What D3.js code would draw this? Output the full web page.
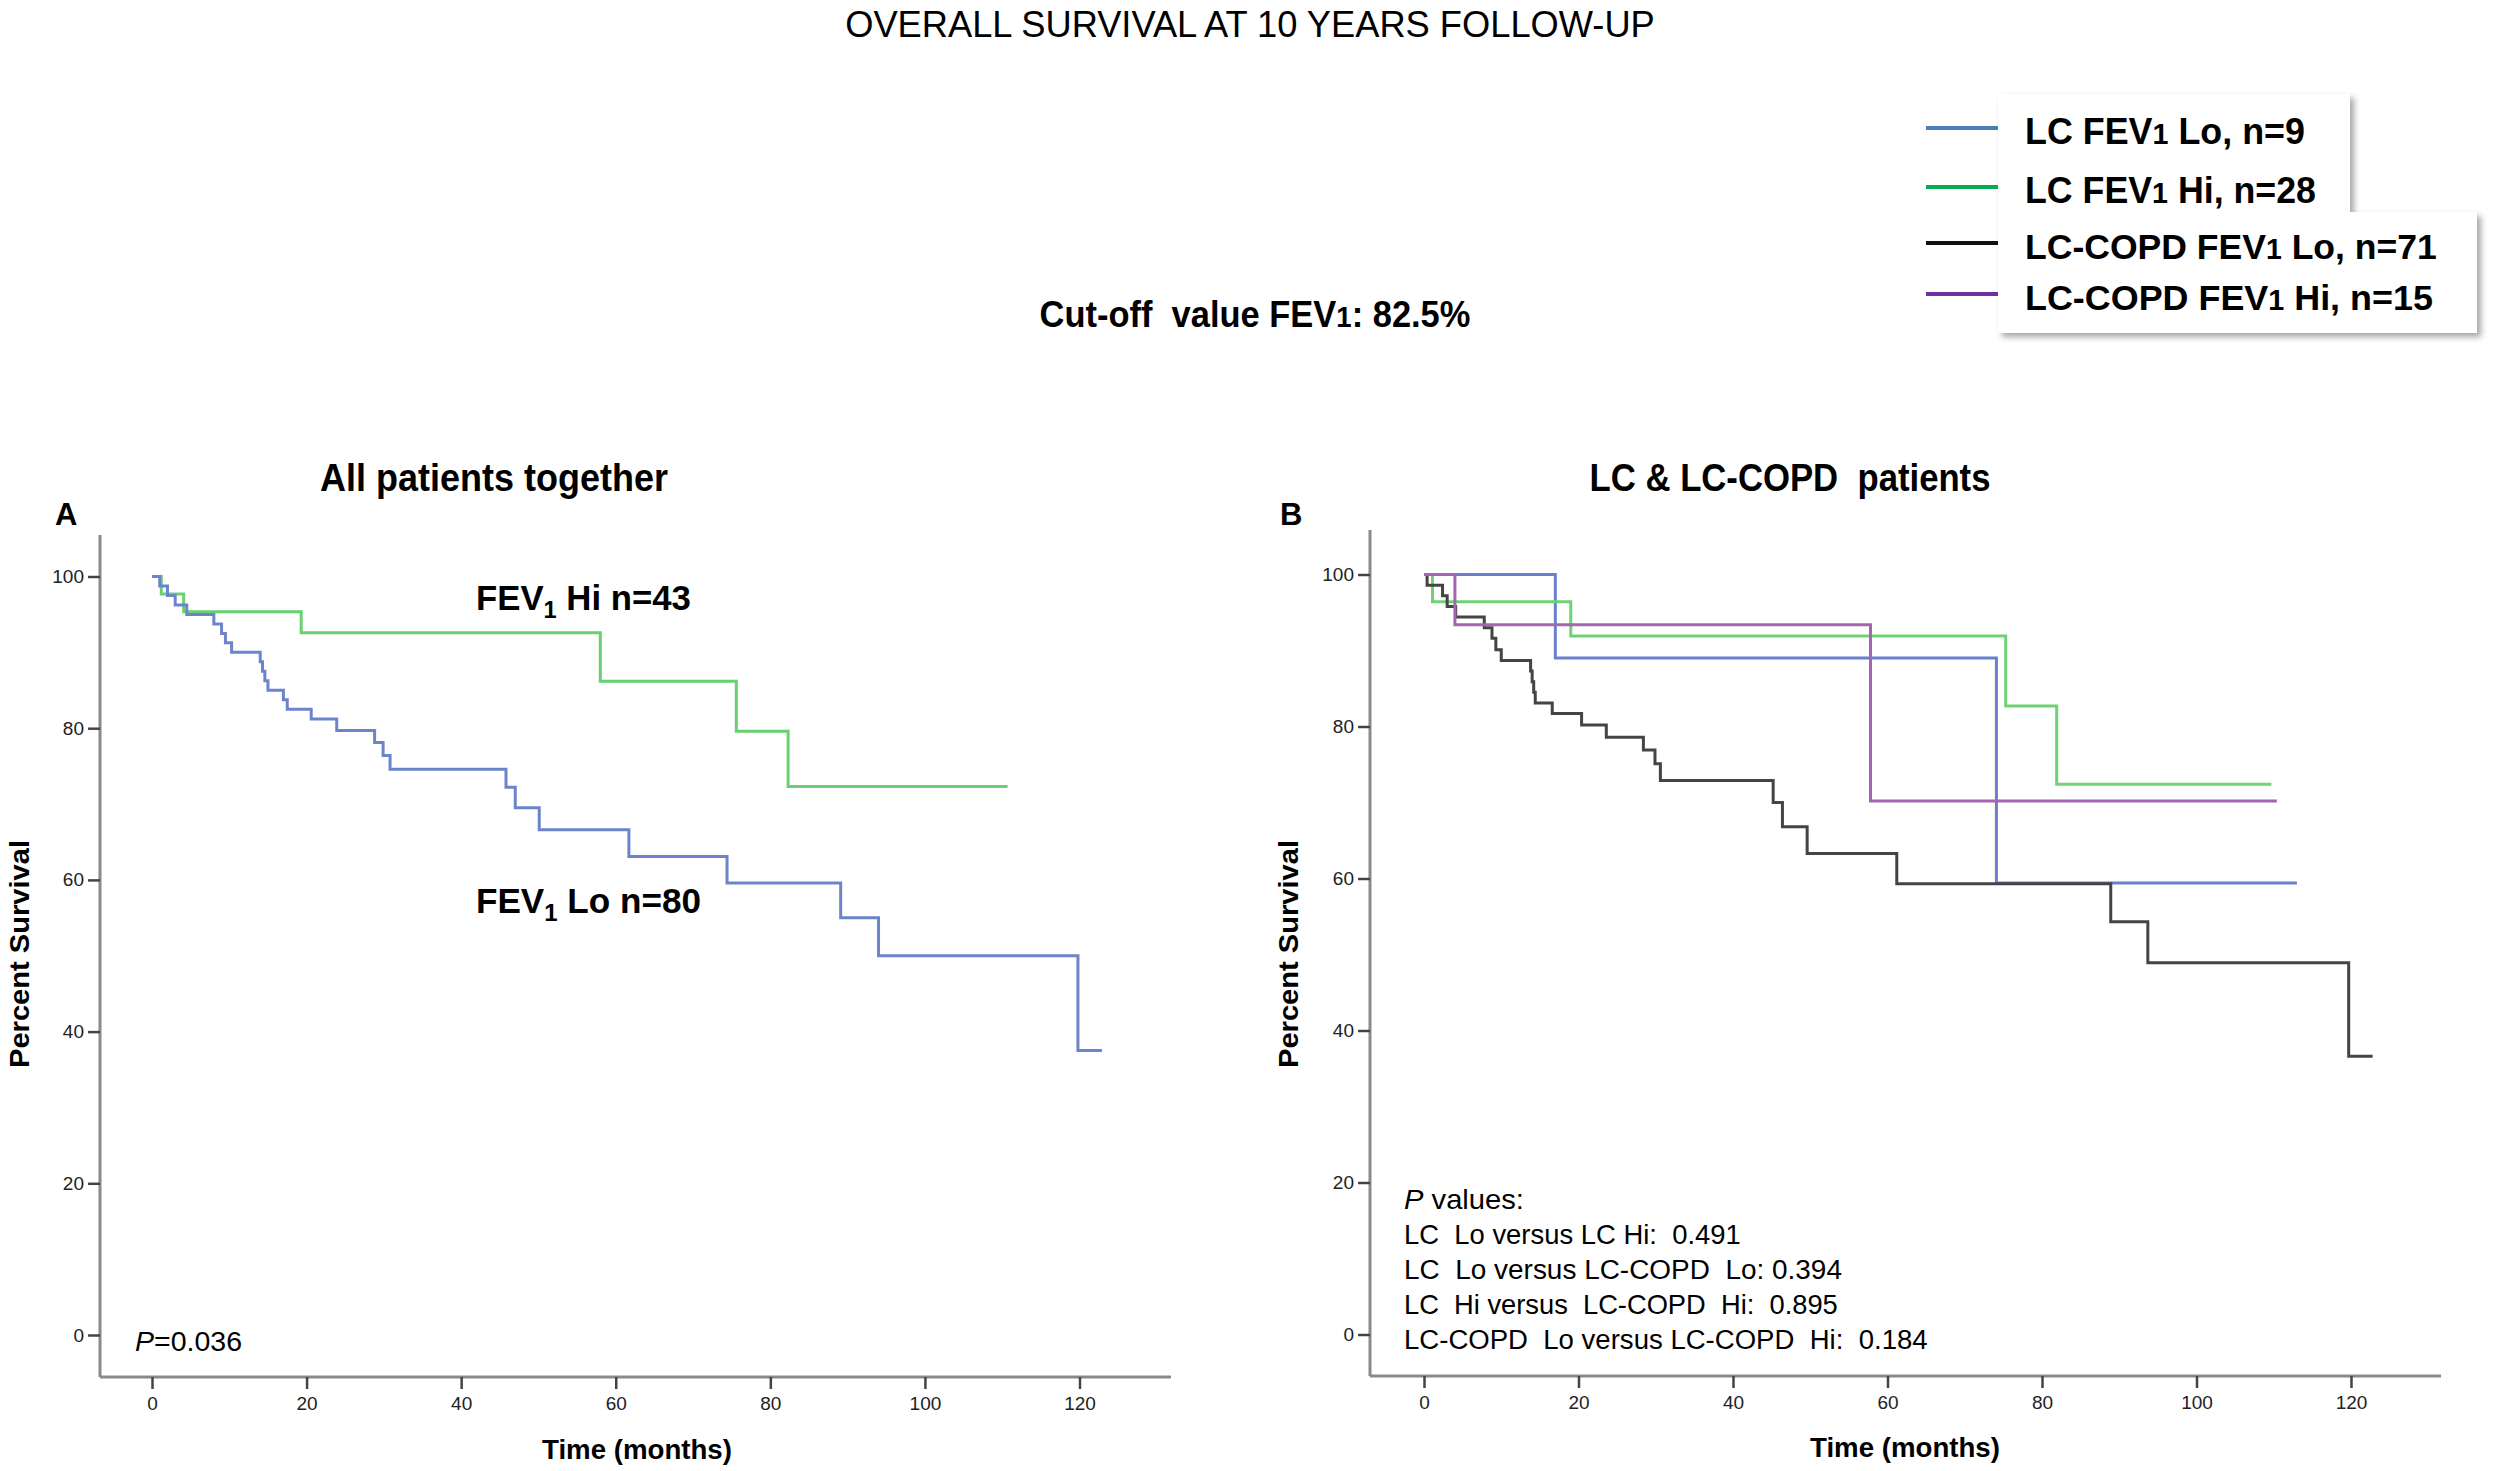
<!DOCTYPE html>
<html>
<head>
<meta charset="utf-8">
<script src="https://cdnjs.cloudflare.com/ajax/libs/d3/7.8.5/d3.min.js"></script>
<style>
  body { margin: 0; background: #fff; }
  svg { display: block; font-family: "Liberation Sans", Arial, sans-serif; }
  text { white-space: pre; }
</style>
</head>
<body>
<script>

// ---- data ----
var monthTicks   = [0, 20, 40, 60, 80, 100, 120];
var percentTicks = [0, 20, 40, 60, 80, 100];

// panel A: all patients together
var allLoTime = [0, 1.0, 2.0, 3.0, 4.5, 8.0, 9.0, 9.5, 10.3, 14.0, 14.3, 14.6, 15.0, 17.0, 17.5, 20.6, 23.9, 28.8, 29.9, 30.8, 45.8, 47.0, 50.1, 61.7, 74.4, 89.1, 94.0, 119.8, 122.9];
var allLoSurv = [100, 98.75, 97.5, 96.25, 95.0, 93.75, 92.5, 91.25, 90.0, 88.75, 87.5, 86.25, 85.0, 83.75, 82.5, 81.2, 79.7, 78.1, 76.4, 74.6, 72.2, 69.5, 66.6, 63.1, 59.6, 55.0, 50.0, 37.5, 37.5];
var allHiTime = [0, 1.2, 4.1, 19.3, 58.0, 75.6, 82.3, 110.7];
var allHiSurv = [100, 97.7, 95.35, 92.6, 86.2, 79.6, 72.3, 72.3];

// panel B: LC & LC-COPD
var lcLoTime = [0, 17.0, 74.1, 113.0];
var lcLoSurv = [100, 89.0, 59.4, 59.4];
var lcHiTime = [0, 1.1, 19.0, 75.3, 81.9, 109.7];
var lcHiSurv = [100, 96.4, 91.9, 82.7, 72.4, 72.4];
var copdLoTime = [0, 0.4, 2.4, 3.0, 4.1, 7.8, 8.8, 9.3, 10.0, 13.8, 14.0, 14.2, 14.4, 16.6, 20.4, 23.6, 28.4, 29.9, 30.6, 45.2, 46.4, 49.6, 61.2, 88.9, 93.7, 119.7, 122.8];
var copdLoSurv = [100, 98.6, 97.2, 95.8, 94.4, 93.0, 91.6, 90.1, 88.7, 87.3, 85.9, 84.5, 83.1, 81.7, 80.2, 78.6, 76.9, 75.1, 72.9, 70.0, 66.8, 63.3, 59.3, 54.3, 48.9, 36.6, 36.6];
var copdHiTime = [0, 4.0, 57.8, 110.4];
var copdHiSurv = [100, 93.4, 70.2, 70.2];

var legendNames  = ["LC FEV1 Lo, n=9", "LC FEV1 Hi, n=28", "LC-COPD FEV1 Lo, n=71", "LC-COPD FEV1 Hi, n=15"];
var legendColors = ["#4a7ebb", "#00b050", "#111111", "#7030a0"];

var pValueLines = ["values:", "LC  Lo versus LC Hi:  0.491", "LC  Lo versus LC-COPD  Lo: 0.394", "LC  Hi versus  LC-COPD  Hi:  0.895", "LC-COPD  Lo versus LC-COPD  Hi:  0.184"];


var svg = d3.select("body").append("svg")
    .attr("width", 2500)
    .attr("height", 1471);

svg.append("rect").attr("width", 2500).attr("height", 1471).attr("fill", "#fff");

var defs = svg.append("defs");
defs.append("filter")
    .attr("id", "shadow")
    .attr("x", "-10%").attr("y", "-10%").attr("width", "130%").attr("height", "130%")
  .append("feDropShadow")
    .attr("dx", 4).attr("dy", 4)
    .attr("stdDeviation", 3)
    .attr("flood-color", "#000")
    .attr("flood-opacity", 0.35);

// split "FEV1" so the 1 can be drawn small / as subscript
var fevParts = function(str, mode) {
  var i = str.indexOf("FEV1");
  if (i < 0) return [{ text: str }];
  var out = [{ text: str.substring(0, i + 3) }, { text: "1", mode: mode }];
  if (i + 4 < str.length) out.push({ text: str.substring(i + 4) });
  return out;
};

// text squeezed / stretched horizontally to a width measured on the figure
var fitText = function(parent, o) {
  var g = parent.append("g");
  var t = g.append("text")
      .attr("font-size", o.size)
      .attr("font-weight", o.weight || "normal")
      .attr("text-anchor", o.anchor || "start")
      .attr("fill", "#000");
  var shift = 0;
  o.parts.forEach(function(p) {
    var s = t.append("tspan").text(p.text);
    var want = 0;
    if (p.mode == "sub") {
      s.attr("font-size", o.size * 0.68);
      want = o.size * 0.22;
    } else if (p.mode == "small") {
      s.attr("font-size", o.size * 0.8);
    }
    if (p.italic) s.attr("font-style", "italic");
    if (want - shift != 0) s.attr("dy", want - shift);
    shift = want;
  });
  var k = 1;
  if (o.width) k = o.width / t.node().getComputedTextLength();
  g.attr("transform", "translate(" + o.x + "," + o.y + ")" + (o.rotate ? " rotate(-90)" : "") + " scale(" + k + ",1)");
  return g;
};

// ---- titles ----
fitText(svg, { x: 1250, y: 37, anchor: "middle", size: 37, parts: [{ text: "OVERALL SURVIVAL AT 10 YEARS FOLLOW-UP" }], width: 810 });
fitText(svg, { x: 1255, y: 327, anchor: "middle", size: 37, weight: "bold", parts: fevParts("Cut-off  value FEV1: 82.5%", "small"), width: 431 });

// ---- legend ----
var legend = svg.append("g").attr("class", "legend");
legend.append("path")
    .attr("d", "M1998,94 H2350 V212 H2477 V333 H1998 Z")
    .attr("fill", "#fff")
    .attr("filter", "url(#shadow)");

var legendWidths = [280, 291, 412, 408];
var legendBase   = [144, 203, 259, 310];
legendNames.forEach(function(name, i) {
  legend.append("line")
      .attr("x1", 1926).attr("x2", 1998)
      .attr("y1", legendBase[i] - 16).attr("y2", legendBase[i] - 16)
      .attr("stroke", legendColors[i])
      .attr("stroke-width", 4);
  fitText(legend, { x: 2025, y: legendBase[i], size: 36, weight: "bold", parts: fevParts(name, "small"), width: legendWidths[i] });
});


// ---- one Kaplan-Meier panel ----
var drawPanel = function(p) {
  var g = svg.append("g").attr("class", "panel");

  var x = d3.scaleLinear().domain([0, 120]).range([p.x0, p.x120]);
  var y = d3.scaleLinear().domain([0, 100]).range([p.y0, p.y100]);

  // axis lines
  g.append("line")
      .attr("x1", p.left).attr("x2", p.left)
      .attr("y1", p.top).attr("y2", p.bottom)
      .attr("stroke", "#8a8a8a").attr("stroke-width", 3);
  g.append("line")
      .attr("x1", p.left).attr("x2", p.right)
      .attr("y1", p.bottom).attr("y2", p.bottom)
      .attr("stroke", "#8a8a8a").attr("stroke-width", 3);

  var ya = g.append("g")
      .attr("transform", "translate(" + p.left + ",0)")
      .call(d3.axisLeft(y).tickValues(percentTicks).tickSize(12).tickPadding(4));
  var xa = g.append("g")
      .attr("transform", "translate(0," + p.bottom + ")")
      .call(d3.axisBottom(x).tickValues(monthTicks).tickSize(12).tickPadding(8));

  [ya, xa].forEach(function(a) {
    a.select(".domain").remove();
    a.selectAll(".tick line").attr("stroke", "#444").attr("stroke-width", 2.5);
    a.selectAll(".tick text")
        .attr("font-family", "'Liberation Sans', Arial, sans-serif")
        .attr("font-size", 19)
        .attr("fill", "#222");
  });

  var line = d3.line()
      .x(function(d) { return x(d[0]); })
      .y(function(d) { return y(d[1]); })
      .curve(d3.curveStepAfter);

  p.curves.forEach(function(c) {
    g.append("path")
        .attr("d", line(d3.zip(c.time, c.surv)))
        .attr("fill", "none")
        .attr("stroke", c.color)
        .attr("stroke-width", 3);
  });

  // axis titles
  fitText(g, { x: p.timeX, y: p.timeY, anchor: "middle", size: 28, weight: "bold", parts: [{ text: "Time (months)" }], width: 190 });
  fitText(g, { x: p.pctX, y: 954, anchor: "middle", size: 28, weight: "bold", parts: [{ text: "Percent Survival" }], width: 228, rotate: true });

  // panel title and letter
  fitText(g, { x: p.titleX, y: 491, anchor: "middle", size: 39, weight: "bold", parts: [{ text: p.title }], width: p.titleW });
  g.append("text")
      .attr("x", p.letterX).attr("y", 525)
      .attr("font-size", 31)
      .attr("font-weight", "bold")
      .text(p.letter);

  return g;
};

var panelA = drawPanel({
  x0: 152, x120: 1079.5, y0: 1335, y100: 576.5,
  left: 100, right: 1171, top: 535, bottom: 1377,
  timeX: 637, timeY: 1459, pctX: 29,
  title: "All patients together", titleX: 494, titleW: 348,
  letter: "A", letterX: 55,
  curves: [
    { time: allHiTime, surv: allHiSurv, color: "#68d06f" },
    { time: allLoTime, surv: allLoSurv, color: "#6c84cb" }
  ]
});

var panelB = drawPanel({
  x0: 1424, x120: 2351, y0: 1334.5, y100: 574.5,
  left: 1370, right: 2441, top: 530, bottom: 1376,
  timeX: 1905, timeY: 1457, pctX: 1298,
  title: "LC & LC-COPD  patients", titleX: 1790, titleW: 401,
  letter: "B", letterX: 1280,
  curves: [
    { time: lcLoTime, surv: lcLoSurv, color: "#6a80cc" },
    { time: lcHiTime, surv: lcHiSurv, color: "#6fd275" },
    { time: copdLoTime, surv: copdLoSurv, color: "#444444" },
    { time: copdHiTime, surv: copdHiSurv, color: "#a665b0" }
  ]
});

// curve labels in panel A
fitText(panelA, { x: 476, y: 610, size: 35, weight: "bold", parts: fevParts("FEV1 Hi n=43", "sub"), width: 215 });
fitText(panelA, { x: 476, y: 913, size: 35, weight: "bold", parts: fevParts("FEV1 Lo n=80", "sub"), width: 225 });

// p values
fitText(panelA, { x: 135, y: 1351, size: 28, parts: [{ text: "P", italic: true }, { text: "=0.036" }], width: 107 });

var pWidths = [120, 337, 438, 434, 524];
var pBase   = [1209, 1244, 1279, 1314, 1349];
pValueLines.forEach(function(s, i) {
  var parts = i == 0 ? [{ text: "P", italic: true }, { text: " " + s }] : [{ text: s }];
  fitText(panelB, { x: 1404, y: pBase[i], size: 28, parts: parts, width: pWidths[i] });
});

</script>
</body>
</html>
